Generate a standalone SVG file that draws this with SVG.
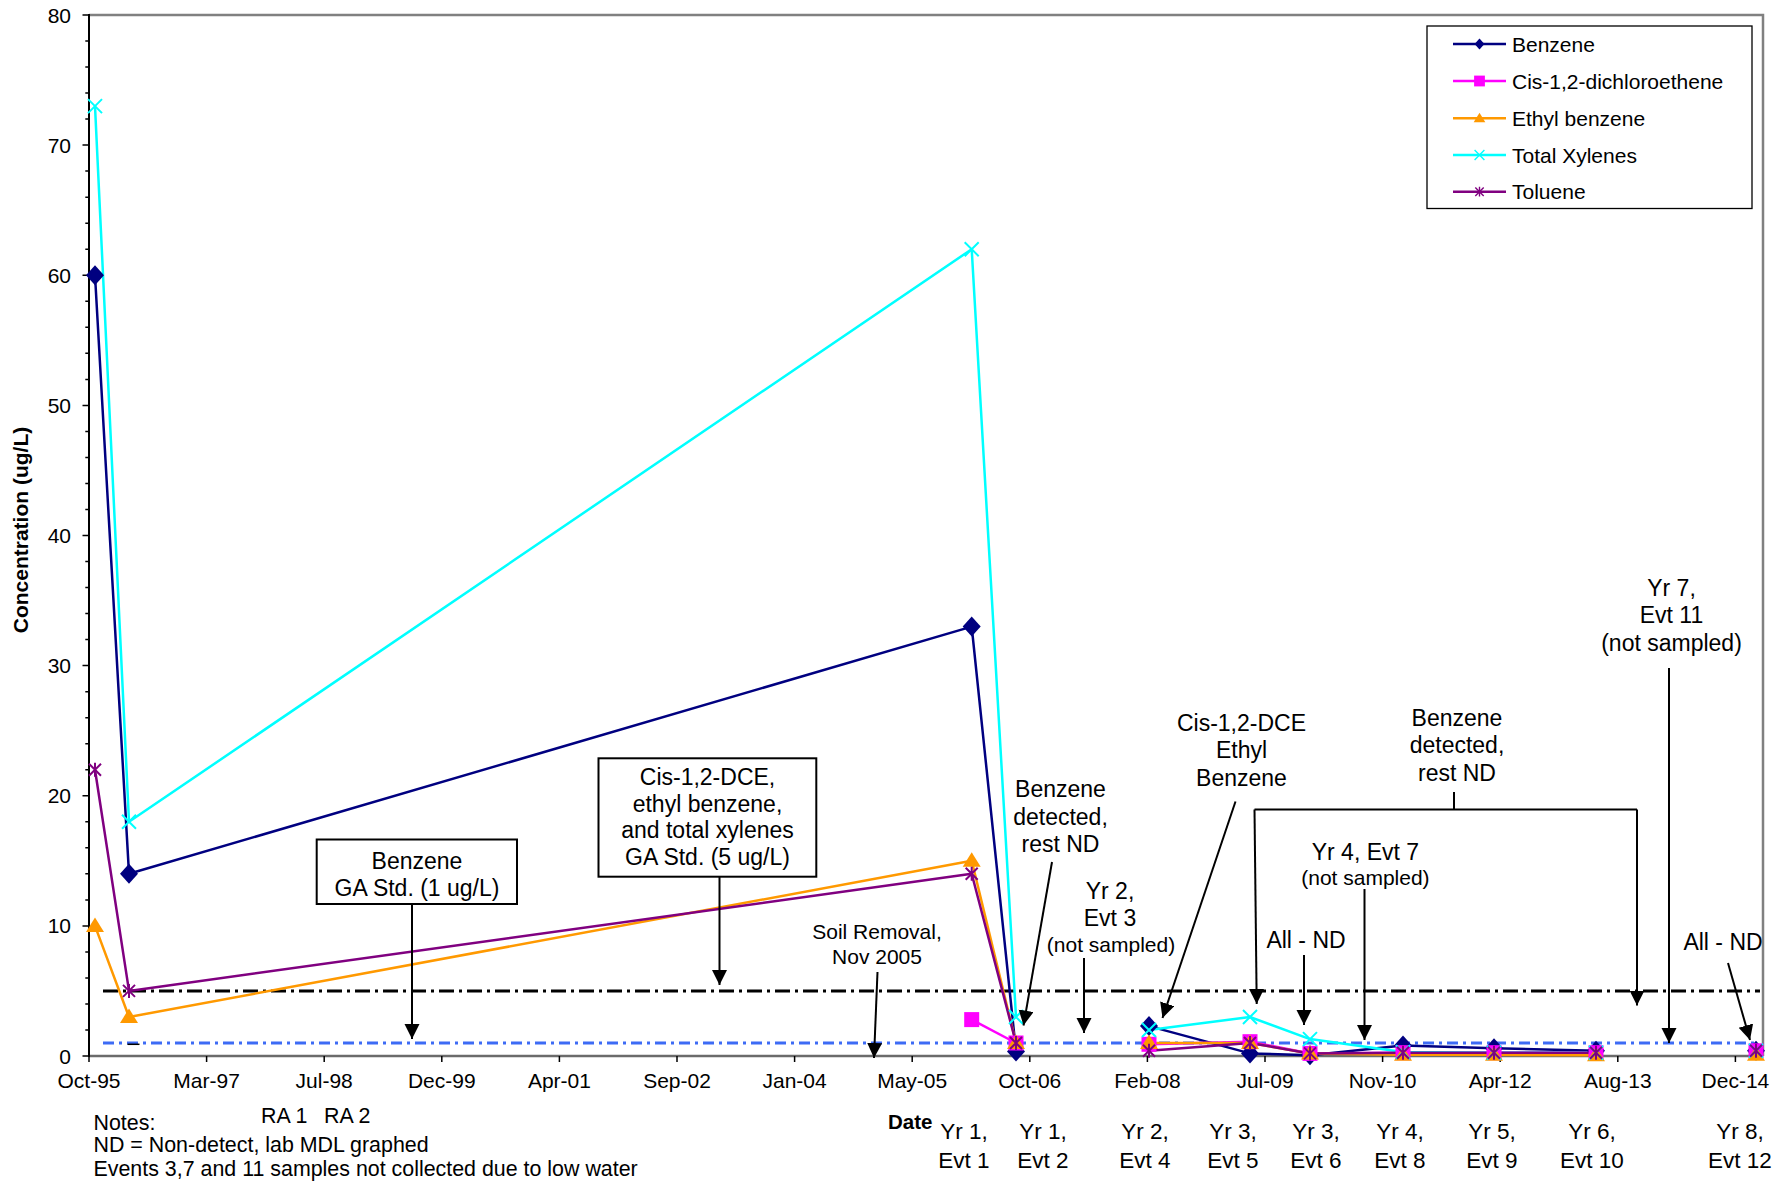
<svg xmlns="http://www.w3.org/2000/svg" width="1787" height="1183" viewBox="0 0 1787 1183">
<style>
text{font-family:"Liberation Sans",Arial,sans-serif;fill:#000}
.yl{font-size:21px;text-anchor:end}
.xl{font-size:21px;text-anchor:middle}
.an{font-size:23px;text-anchor:middle}
.sm{font-size:21px;text-anchor:middle}
.ev{font-size:22.5px;text-anchor:middle}
.nt{font-size:21.4px}
.lg{font-size:21px}
.arr{stroke:#000;stroke-width:2;fill:none;marker-end:url(#ah)}
.ln{fill:none;stroke-width:2.5;stroke-linejoin:round}
.bz{stroke:#000080}.cd{stroke:#FF00FF}.eb{stroke:#FF9900}.xy{stroke:#00FFFF}.tl{stroke:#800080}
.box{fill:#fff;stroke:#000;stroke-width:2}
</style>
<defs>
<marker id="ah" markerUnits="userSpaceOnUse" markerWidth="16" markerHeight="16" viewBox="0 0 16 16" refX="15" refY="7.5" orient="auto">
<path d="M0,0 L15,7.5 L0,15 Z" fill="#000"/>
</marker>
<path id="mdia" d="M0,-10 L9,0 L0,10 L-9,0 Z" fill="#000080"/>
<rect id="msq" x="-7.5" y="-7.5" width="15" height="15" fill="#FF00FF"/>
<path id="mtri" d="M0,-8.5 L9,6 L-9,6 Z" fill="#FF9900"/>
<path id="mx" d="M-7,-7 L7,7 M-7,7 L7,-7" stroke="#00FFFF" stroke-width="2" fill="none"/>
<path id="mst" d="M-6,-6 L6,6 M-6,6 L6,-6 M0,-7 L0,7" stroke="#800080" stroke-width="2" fill="none"/>
</defs>
<rect width="1787" height="1183" fill="#fff"/>

<g id="plot-area">
<path d="M89,15 L1763,15 L1763,1056" fill="none" stroke="#808080" stroke-width="2.5"/>
<line x1="89" y1="1056" x2="1763" y2="1056" stroke="#6b6b6b" stroke-width="2.5"/>
<line x1="89" y1="14" x2="89" y2="1057" stroke="#000" stroke-width="2"/>
</g>

<g id="y-axis" stroke="#000" stroke-width="1.5">
<path d="M82.5,15H89M82.5,145.1H89M82.5,275.3H89M82.5,405.4H89M82.5,535.5H89M82.5,665.6H89M82.5,795.8H89M82.5,925.9H89M82.5,1056H89"/>
<path d="M85.3,41H89M85.3,67H89M85.3,93H89M85.3,119.1H89M85.3,171.1H89M85.3,197.2H89M85.3,223.2H89M85.3,249.2H89M85.3,301.3H89M85.3,327.3H89M85.3,353.3H89M85.3,379.4H89M85.3,431.4H89M85.3,457.4H89M85.3,483.5H89M85.3,509.5H89M85.3,561.5H89M85.3,587.6H89M85.3,613.6H89M85.3,639.6H89M85.3,691.7H89M85.3,717.7H89M85.3,743.7H89M85.3,769.7H89M85.3,821.8H89M85.3,847.8H89M85.3,873.8H89M85.3,899.9H89M85.3,951.9H89M85.3,977.9H89M85.3,1004H89M85.3,1030H89"/>
</g>
<g id="y-labels">
<text class="yl" x="71" y="22.5">80</text>
<text class="yl" x="71" y="152.6">70</text>
<text class="yl" x="71" y="282.8">60</text>
<text class="yl" x="71" y="412.9">50</text>
<text class="yl" x="71" y="543">40</text>
<text class="yl" x="71" y="673.1">30</text>
<text class="yl" x="71" y="803.3">20</text>
<text class="yl" x="71" y="933.4">10</text>
<text class="yl" x="71" y="1063.5">0</text>
</g>
<text id="y-title" transform="translate(28,530) rotate(-90)" text-anchor="middle" font-weight="bold" font-size="21">Concentration (ug/L)</text>

<g id="x-axis">
<path stroke="#000" stroke-width="1.5" d="M89,1056V1062M206.6,1056V1062M324.2,1056V1062M441.8,1056V1062M559.4,1056V1062M677,1056V1062M794.6,1056V1062M912.2,1056V1062M1029.8,1056V1062M1147.4,1056V1062M1265,1056V1062M1382.6,1056V1062M1500.2,1056V1062M1617.8,1056V1062M1735.4,1056V1062"/>
<text class="xl" x="89" y="1088">Oct-95</text>
<text class="xl" x="206.6" y="1088">Mar-97</text>
<text class="xl" x="324.2" y="1088">Jul-98</text>
<text class="xl" x="441.8" y="1088">Dec-99</text>
<text class="xl" x="559.4" y="1088">Apr-01</text>
<text class="xl" x="677" y="1088">Sep-02</text>
<text class="xl" x="794.6" y="1088">Jan-04</text>
<text class="xl" x="912.2" y="1088">May-05</text>
<text class="xl" x="1029.8" y="1088">Oct-06</text>
<text class="xl" x="1147.4" y="1088">Feb-08</text>
<text class="xl" x="1265" y="1088">Jul-09</text>
<text class="xl" x="1382.6" y="1088">Nov-10</text>
<text class="xl" x="1500.2" y="1088">Apr-12</text>
<text class="xl" x="1617.8" y="1088">Aug-13</text>
<text class="xl" x="1735.4" y="1088">Dec-14</text>
</g>

<g id="standards">
<line x1="103" y1="991" x2="1760" y2="991" stroke="#000" stroke-width="3" stroke-dasharray="15 5 3 5"/>
<line x1="103" y1="1043" x2="1758" y2="1043" stroke="#3D6BF5" stroke-width="3" stroke-dasharray="11 5 3 5"/>
<line x1="127.5" y1="1044.3" x2="139.5" y2="1044.3" stroke="#000" stroke-width="1.5"/>
</g>

<g id="series-lines">
<polyline class="ln bz" points="95,275.3 129,873.8 971.7,626.6 1016,1051.4"/>
<polyline class="ln bz" points="1149,1026.1 1250,1053.4 1310,1055.3 1403,1045.6 1494,1048.2 1596,1050.8"/>
<polyline class="ln cd" points="971.7,1019.6 1016,1043"/>
<polyline class="ln cd" points="1149,1044.3 1250,1041.7 1310,1053.4 1403,1052.7 1494,1052.7 1596,1052.7"/>
<polyline class="ln eb" points="95,925.9 129,1017 971.7,860.8 1016,1043"/>
<polyline class="ln eb" points="1149,1043 1250,1043 1310,1053.4 1403,1054.7 1494,1054.7 1596,1055.3"/>
<polyline class="ln xy" points="95,106.1 129,821.8 971.7,249.2 1016,1017"/>
<polyline class="ln xy" points="1149,1030 1250,1017 1310,1039.1 1403,1052.1 1494,1052.7 1596,1052.7"/>
<polyline class="ln tl" points="95,769.7 129,990.9 971.7,873.8 1016,1043"/>
<polyline class="ln tl" points="1149,1050.8 1250,1043 1310,1053.4 1403,1052.7 1494,1052.7 1596,1052.7"/>
</g>

<g id="series-benzene">
<use href="#mdia" x="95" y="275.3"/><use href="#mdia" x="129" y="873.8"/><use href="#mdia" x="971.7" y="626.6"/><use href="#mdia" x="1016" y="1051.4"/>
<use href="#mdia" x="1149" y="1026.1"/><use href="#mdia" x="1250" y="1053.4"/><use href="#mdia" x="1310" y="1055.3"/><use href="#mdia" x="1403" y="1045.6"/><use href="#mdia" x="1494" y="1048.2"/><use href="#mdia" x="1596" y="1050.8"/><use href="#mdia" x="1756" y="1050.8"/>
</g>
<g id="series-cis-dce">
<use href="#msq" x="971.7" y="1019.6"/><use href="#msq" x="1016" y="1043"/>
<use href="#msq" x="1149" y="1044.3"/><use href="#msq" x="1250" y="1041.7"/><use href="#msq" x="1310" y="1053.4"/><use href="#msq" x="1403" y="1052.7"/><use href="#msq" x="1494" y="1052.7"/><use href="#msq" x="1596" y="1052.7"/><use href="#msq" x="1756" y="1050.8"/>
</g>
<g id="series-ethylbenzene">
<use href="#mtri" x="95" y="925.9"/><use href="#mtri" x="129" y="1017"/><use href="#mtri" x="971.7" y="860.8"/><use href="#mtri" x="1016" y="1043"/>
<use href="#mtri" x="1149" y="1043"/><use href="#mtri" x="1250" y="1043"/><use href="#mtri" x="1310" y="1053.4"/><use href="#mtri" x="1403" y="1054.7"/><use href="#mtri" x="1494" y="1054.7"/><use href="#mtri" x="1596" y="1055.3"/><use href="#mtri" x="1756" y="1054.7"/>
</g>
<g id="series-xylenes">
<use href="#mx" x="95" y="106.1"/><use href="#mx" x="129" y="821.8"/><use href="#mx" x="971.7" y="249.2"/><use href="#mx" x="1016" y="1017"/>
<use href="#mx" x="1149" y="1030"/><use href="#mx" x="1250" y="1017"/><use href="#mx" x="1310" y="1039.1"/><use href="#mx" x="1403" y="1052.1"/><use href="#mx" x="1494" y="1052.7"/><use href="#mx" x="1596" y="1052.7"/><use href="#mx" x="1756" y="1050.8"/>
</g>
<g id="series-toluene">
<use href="#mst" x="95" y="769.7"/><use href="#mst" x="129" y="990.9"/><use href="#mst" x="971.7" y="873.8"/><use href="#mst" x="1016" y="1043"/>
<use href="#mst" x="1149" y="1050.8"/><use href="#mst" x="1250" y="1043"/><use href="#mst" x="1310" y="1053.4"/><use href="#mst" x="1403" y="1052.7"/><use href="#mst" x="1494" y="1052.7"/><use href="#mst" x="1596" y="1052.7"/><use href="#mst" x="1756" y="1050.8"/>
</g>

<g id="legend">
<rect x="1427" y="26" width="325" height="182.5" fill="#fff" stroke="#000" stroke-width="1.3"/>
<line class="ln bz" x1="1453" y1="44" x2="1506" y2="44" stroke-width="2"/>
<use href="#mdia" transform="translate(1479.5,44) scale(0.55)"/>
<text class="lg" x="1512" y="51.5">Benzene</text>
<line class="ln cd" x1="1453" y1="81" x2="1506" y2="81" stroke-width="2"/>
<use href="#msq" transform="translate(1479.5,81) scale(0.72)"/>
<text class="lg" x="1512" y="88.5">Cis-1,2-dichloroethene</text>
<line class="ln eb" x1="1453" y1="118.3" x2="1506" y2="118.3" stroke-width="2"/>
<use href="#mtri" transform="translate(1479.5,118.3) scale(0.65)"/>
<text class="lg" x="1512" y="125.8">Ethyl benzene</text>
<line class="ln xy" x1="1453" y1="155" x2="1506" y2="155" stroke-width="2"/>
<use href="#mx" transform="translate(1479.5,155) scale(0.7)"/>
<text class="lg" x="1512" y="162.5">Total Xylenes</text>
<line class="ln tl" x1="1453" y1="191.7" x2="1506" y2="191.7" stroke-width="2"/>
<use href="#mst" transform="translate(1479.5,191.7) scale(0.7)"/>
<text class="lg" x="1512" y="199.2">Toluene</text>
</g>

<g id="ann-benzene-std">
<rect class="box" x="316.7" y="839.5" width="200.3" height="64.5"/>
<text class="an" x="417" y="868.5">Benzene</text>
<text class="an" x="417" y="895.5">GA Std. (1 ug/L)</text>
</g>
<g id="ann-5ug-std">
<rect class="box" x="598.5" y="758.3" width="217.8" height="118.4"/>
<text class="an" x="707.5" y="785">Cis-1,2-DCE,</text>
<text class="an" x="707.5" y="811.7">ethyl benzene,</text>
<text class="an" x="707.5" y="838.3">and total xylenes</text>
<text class="an" x="707.5" y="865">GA Std. (5 ug/L)</text>
</g>
<g id="ann-soil-removal">
<text class="sm" x="877" y="939">Soil Removal,</text>
<text class="sm" x="877" y="964">Nov 2005</text>
</g>
<g id="ann-benzene-detected-1">
<text class="an" x="1060.5" y="796.7">Benzene</text>
<text class="an" x="1060.5" y="824.5">detected,</text>
<text class="an" x="1060.5" y="852">rest ND</text>
</g>
<g id="ann-evt3">
<text class="an" x="1110" y="899">Yr 2,</text>
<text class="an" x="1110" y="925.5">Evt 3</text>
<text class="sm" x="1111" y="951.6">(not sampled)</text>
</g>
<g id="ann-cis-ethyl-benzene">
<text class="an" x="1241.5" y="730.5">Cis-1,2-DCE</text>
<text class="an" x="1241.5" y="757.5">Ethyl</text>
<text class="an" x="1241.5" y="785.5">Benzene</text>
</g>
<g id="ann-benzene-detected-2">
<text class="an" x="1457" y="726">Benzene</text>
<text class="an" x="1457" y="753.3">detected,</text>
<text class="an" x="1457" y="780.7">rest ND</text>
</g>
<g id="ann-all-nd-1">
<text class="an" x="1306" y="948.3">All - ND</text>
</g>
<g id="ann-evt7">
<text class="an" x="1365.4" y="860">Yr 4, Evt 7</text>
<text class="sm" x="1365.4" y="885">(not sampled)</text>
</g>
<g id="ann-evt11">
<text class="an" x="1671.5" y="596">Yr 7,</text>
<text class="an" x="1671.5" y="623">Evt 11</text>
<text class="an" x="1671.5" y="650.5">(not sampled)</text>
</g>
<g id="ann-all-nd-2">
<text class="an" x="1723" y="950">All - ND</text>
</g>

<g id="connectors">
<line class="arr" x1="412" y1="904" x2="412" y2="1039"/>
<line class="arr" x1="719.5" y1="876.7" x2="719.5" y2="985"/>
<line class="arr" x1="877.5" y1="972" x2="874" y2="1058"/>
<line class="arr" x1="1052" y1="862" x2="1023.5" y2="1025.5"/>
<line class="arr" x1="1084" y1="958" x2="1084" y2="1033"/>
<line class="arr" x1="1235.5" y1="801.5" x2="1162.5" y2="1018"/>
<path d="M1454,792 V809.5 M1254.5,809.5 H1637" stroke="#000" stroke-width="2" fill="none"/>
<line class="arr" x1="1254.5" y1="809.5" x2="1256.7" y2="1004"/>
<line class="arr" x1="1637" y1="809.5" x2="1637" y2="1005.5"/>
<line class="arr" x1="1304" y1="955" x2="1304" y2="1025"/>
<line class="arr" x1="1364.5" y1="889" x2="1364.5" y2="1040"/>
<line class="arr" x1="1669" y1="668" x2="1669" y2="1043"/>
<line class="arr" x1="1728" y1="963" x2="1750" y2="1040"/>
</g>

<g id="notes">
<text class="nt" x="93.5" y="1129.5">Notes:</text>
<text class="nt" x="93.5" y="1152">ND = Non-detect, lab MDL graphed</text>
<text class="nt" x="93.5" y="1176">Events 3,7 and 11 samples not collected due to low water</text>
<text class="nt" x="261" y="1123">RA 1</text>
<text class="nt" x="324" y="1123">RA 2</text>
<text x="888" y="1128.5" font-size="20.5" font-weight="bold">Date</text>
</g>
<g id="event-labels">
<text class="ev" x="964" y="1139">Yr 1,</text><text class="ev" x="964" y="1167.5">Evt 1</text>
<text class="ev" x="1043" y="1139">Yr 1,</text><text class="ev" x="1043" y="1167.5">Evt 2</text>
<text class="ev" x="1145" y="1139">Yr 2,</text><text class="ev" x="1145" y="1167.5">Evt 4</text>
<text class="ev" x="1233" y="1139">Yr 3,</text><text class="ev" x="1233" y="1167.5">Evt 5</text>
<text class="ev" x="1316" y="1139">Yr 3,</text><text class="ev" x="1316" y="1167.5">Evt 6</text>
<text class="ev" x="1400" y="1139">Yr 4,</text><text class="ev" x="1400" y="1167.5">Evt 8</text>
<text class="ev" x="1492" y="1139">Yr 5,</text><text class="ev" x="1492" y="1167.5">Evt 9</text>
<text class="ev" x="1592" y="1139">Yr 6,</text><text class="ev" x="1592" y="1167.5">Evt 10</text>
<text class="ev" x="1740" y="1139">Yr 8,</text><text class="ev" x="1740" y="1167.5">Evt 12</text>
</g>
</svg>
